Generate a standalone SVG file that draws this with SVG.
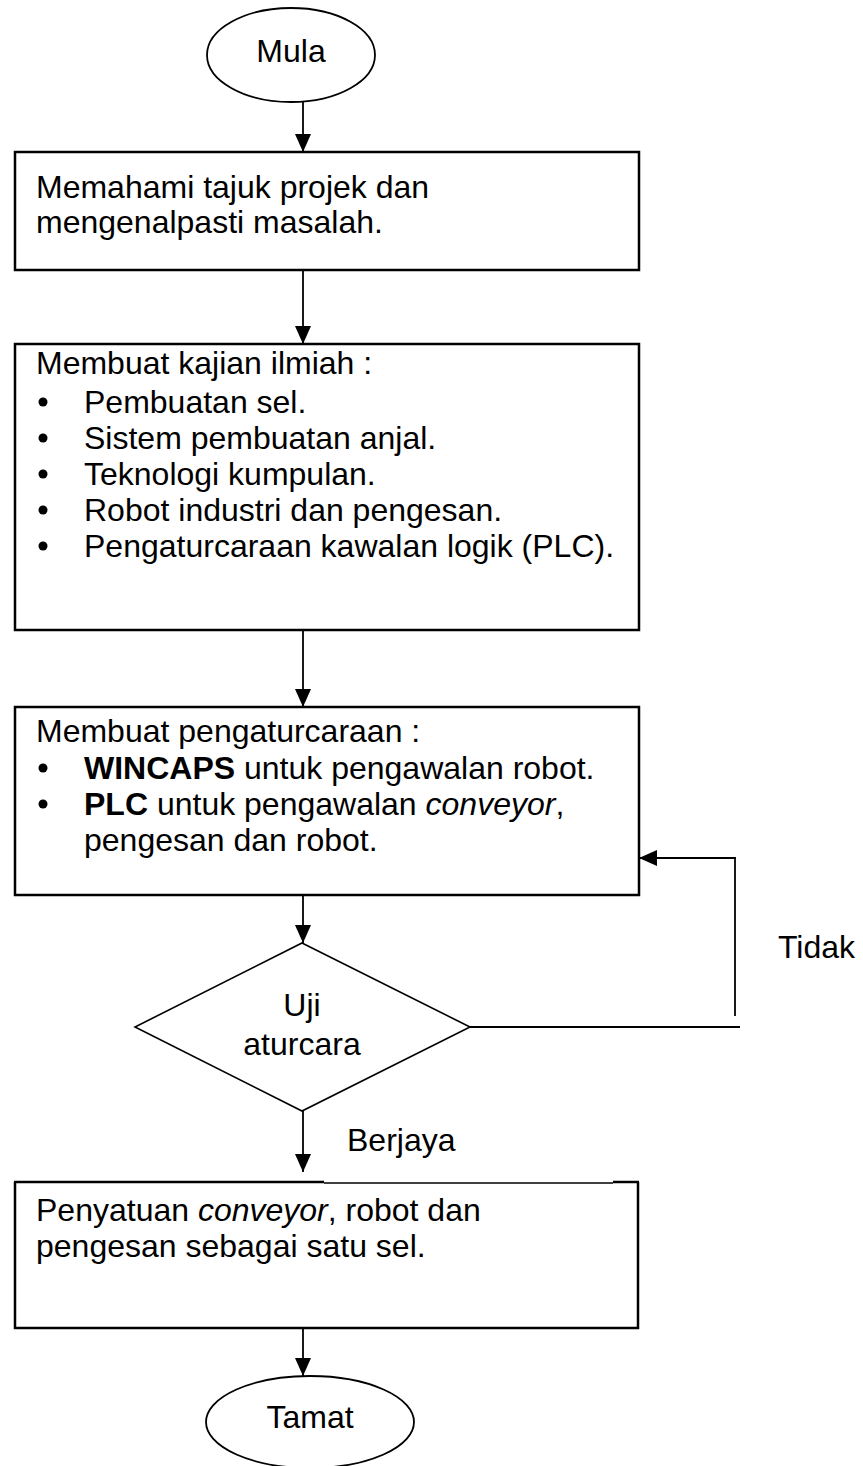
<svg xmlns="http://www.w3.org/2000/svg" width="863" height="1466" viewBox="0 0 863 1466">
<defs>
<style>
text{font-family:"Liberation Sans",Arial,sans-serif;font-size:32px;fill:#000}
.box{fill:#fff;stroke:#000;stroke-width:2.5}
.term{fill:#fff;stroke:#000;stroke-width:1.8}
.dia{fill:#fff;stroke:#000;stroke-width:1.6}
.conn{fill:none;stroke:#000;stroke-width:1.8}
.mid{text-anchor:middle}
</style>
<marker id="ah" markerUnits="userSpaceOnUse" markerWidth="18" markerHeight="18" viewBox="0 0 18 18" refX="18" refY="9" orient="auto">
<path d="M0,1 L18,9 L0,17 Z" fill="#000"/>
</marker>
</defs>
<g id="connectors">
<line class="conn" x1="303" y1="102" x2="303" y2="152" marker-end="url(#ah)"/>
<line class="conn" x1="303" y1="270" x2="303" y2="344" marker-end="url(#ah)"/>
<line class="conn" x1="303" y1="630" x2="303" y2="707" marker-end="url(#ah)"/>
<line class="conn" x1="303" y1="895" x2="303" y2="943" marker-end="url(#ah)"/>
<line class="conn" x1="303" y1="1111" x2="303" y2="1172" marker-end="url(#ah)"/>
<line class="conn" x1="303" y1="1328" x2="303" y2="1376" marker-end="url(#ah)"/>
<line class="conn" x1="470" y1="1027" x2="740" y2="1027"/>
<line class="conn" x1="735" y1="1016" x2="735" y2="858"/>
<line class="conn" x1="736" y1="858" x2="639" y2="858" marker-end="url(#ah)"/>
<text x="778" y="958">Tidak</text>
<text x="347" y="1151">Berjaya</text>
</g>
<g id="mula">
<ellipse class="term" cx="291" cy="55" rx="84" ry="47"/>
<text class="mid" x="291" y="62">Mula</text>
</g>
<g id="box1">
<rect class="box" x="15" y="152" width="624" height="118"/>
<text x="36" y="198">Memahami tajuk projek dan</text>
<text x="36" y="233">mengenalpasti masalah.</text>
</g>
<g id="box2">
<rect class="box" x="15" y="344" width="624" height="286"/>
<text x="36" y="374">Membuat kajian ilmiah :</text>
<circle cx="43" cy="402" r="4.5"/><text x="84" y="413">Pembuatan sel.</text>
<circle cx="43" cy="438" r="4.5"/><text x="84" y="449">Sistem pembuatan anjal.</text>
<circle cx="43" cy="474" r="4.5"/><text x="84" y="485">Teknologi kumpulan.</text>
<circle cx="43" cy="510" r="4.5"/><text x="84" y="521">Robot industri dan pengesan.</text>
<circle cx="43" cy="546" r="4.5"/><text x="84" y="557">Pengaturcaraan kawalan logik (PLC).</text>
</g>
<g id="box3">
<rect class="box" x="15" y="707" width="624" height="188"/>
<text x="36" y="742">Membuat pengaturcaraan :</text>
<circle cx="43" cy="768" r="4.5"/><text x="84" y="779"><tspan font-weight="bold">WINCAPS</tspan> untuk pengawalan robot.</text>
<circle cx="43" cy="804" r="4.5"/><text x="84" y="815"><tspan font-weight="bold">PLC</tspan> untuk pengawalan <tspan font-style="italic">conveyor</tspan>,</text>
<text x="84" y="851">pengesan dan robot.</text>
</g>
<g id="decision">
<polygon class="dia" points="302,943 470,1027 302,1111 135,1027"/>
<text class="mid" x="302" y="1016">Uji</text>
<text class="mid" x="302" y="1055">aturcara</text>
</g>
<g id="box4">
<path class="box" d="M15,1182 L15,1328 L638,1328 L638,1182"/>
<line x1="14" y1="1182" x2="324" y2="1182" stroke="#000" stroke-width="2.5"/>
<line x1="324" y1="1183" x2="613" y2="1183" stroke="#000" stroke-width="1.4"/>
<line x1="613" y1="1182" x2="639" y2="1182" stroke="#000" stroke-width="2.5"/>
<text x="36" y="1221">Penyatuan <tspan font-style="italic">conveyor</tspan>, robot dan</text>
<text x="36" y="1257">pengesan sebagai satu sel.</text>
</g>
<g id="tamat">
<ellipse class="term" cx="310" cy="1422" rx="104" ry="46"/>
<text class="mid" x="310" y="1428">Tamat</text>
</g>
</svg>
